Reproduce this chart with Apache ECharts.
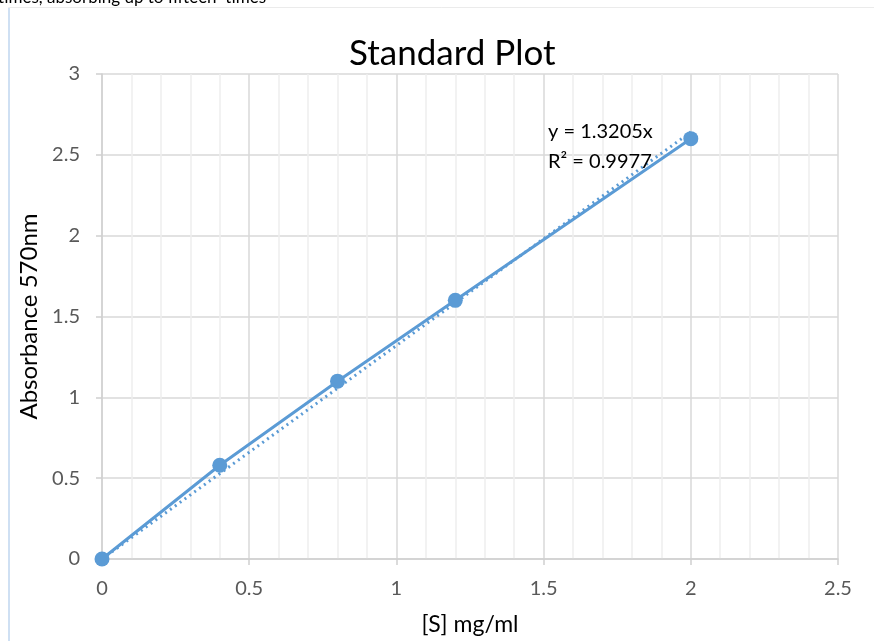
<!DOCTYPE html>
<html><head><meta charset="utf-8">
<script src="https://cdn.jsdelivr.net/npm/echarts@6/dist/echarts.min.js"></script>
<style>html,body{margin:0;padding:0;background:#fff}#c{width:874px;height:641px}</style>
</head><body><div id="c"></div>
<script>
const concentrations = [0, 0.4, 0.8, 1.2, 2];
const absorbances = [0, 0.58, 1.1, 1.6, 2.6];
const slope = 1.3205;
const rSquared = 0.9977;
const trendX = [0, 2];
const xTicks = [0, 0.5, 1, 1.5, 2, 2.5];
const yTicks = [0, 0.5, 1, 1.5, 2, 2.5, 3];

const FONT = 'Lato, "Open Sans", sans-serif';
const BLUE = '#5b9bd5';
const chart = echarts.init(document.getElementById('c'));
const pts = concentrations.map((x, i) => [x, absorbances[i]]);
const trend = trendX.map(x => [x, x * slope]);

chart.setOption({
  animation: false,
  backgroundColor: '#fff',
  title: {
    text: 'Standard Plot', left: 344, top: 31,
    textStyle: { fontFamily: FONT, fontSize: 35, fontWeight: 'normal', color: '#000' }
  },
  grid: { left: 102, right: 36, top: 74, bottom: 82 },
  xAxis: {
    type: 'value', min: xTicks[0], max: xTicks[xTicks.length - 1], interval: 0.5,
    name: '[S] mg/ml', nameLocation: 'middle', nameGap: 54,
    nameTextStyle: { fontFamily: FONT, fontSize: 23, color: '#000' },
    axisLine: { show: true, lineStyle: { color: '#d0d0d0', width: 1.5 } },
    axisTick: { show: true, length: 6, lineStyle: { color: '#d0d0d0', width: 1.5 } },
    axisLabel: { fontFamily: FONT, fontSize: 20, color: '#595959', margin: 20 },
    splitLine: { show: true, lineStyle: { color: '#d9d9d9', width: 1.5 } },
    minorTick: { show: false, splitNumber: 5 },
    minorSplitLine: { show: true, lineStyle: { color: '#eeeeee', width: 1.5 } }
  },
  yAxis: {
    type: 'value', min: yTicks[0], max: yTicks[yTicks.length - 1], interval: 0.5,
    name: 'Absorbance 570nm', nameLocation: 'middle', nameGap: 56, nameRotate: 90,
    nameTextStyle: { fontFamily: FONT, fontSize: 24, color: '#000' },
    axisLine: { show: true, lineStyle: { color: '#d0d0d0', width: 1.5 } },
    axisTick: { show: true, length: 6, lineStyle: { color: '#d0d0d0', width: 1.5 } },
    axisLabel: { fontFamily: FONT, fontSize: 20, color: '#595959', margin: 22 },
    splitLine: { show: true, lineStyle: { color: '#d9d9d9', width: 1.5 } }
  },
  series: [
    {
      type: 'line', data: trend, symbol: 'none', z: 2,
      lineStyle: { color: BLUE, width: 3, type: [2, 4] }
    },
    {
      type: 'line', data: pts, symbol: 'circle', symbolSize: 15, z: 3,
      itemStyle: { color: BLUE }, lineStyle: { color: BLUE, width: 3 }
    }
  ],
  graphic: [
    { type: 'rect', shape: { x: 8.5, y: 7.5, width: 870, height: 640 }, style: { fill: 'none', stroke: '#ebebeb', lineWidth: 1 }, z: -10 },
    { type: 'rect', shape: { x: 8, y: 8, width: 2, height: 640 }, style: { fill: '#cfe0f3' }, z: 10 },
    { type: 'text', left: -2, top: -11, style: { text: 'times, absorbing up to fifteen  times', font: '17px ' + FONT, fill: '#000' }, z: 10 },
    { type: 'text', left: 548, top: 117, style: { text: 'y = 1.3205x\nR² = 0.9977', font: '20px ' + FONT, fill: '#000', lineHeight: 30 }, z: 10 }
  ]
});
</script></body></html>
